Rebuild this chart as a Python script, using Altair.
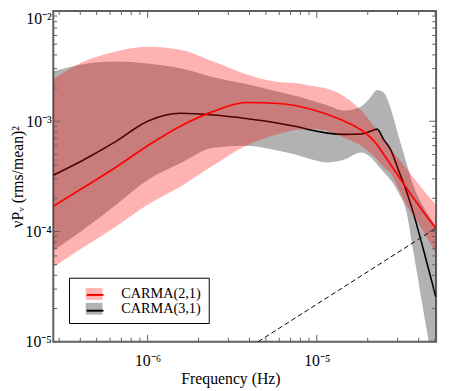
import altair as alt
import pandas as pd

# ---------------- data ----------------
freq = [2.77e-7, 4.07e-7, 6.43e-7, 1.0e-6, 1.56e-6, 2.45e-6, 3.81e-6, 5.93e-6,
        7.45e-6, 9.35e-6, 1.16e-5, 1.46e-5, 1.83e-5, 2.09e-5, 2.27e-5, 2.49e-5,
        2.73e-5, 3.04e-5, 3.38e-5, 3.71e-5, 4.25e-5, 5.05e-5]

carma21_mid = [1.69e-4, 2.44e-4, 3.79e-4, 6.0e-4, 9.03e-4, 1.23e-3, 1.48e-3, 1.45e-3,
               1.39e-3, 1.28e-3, 1.15e-3, 1.0e-3, 8.32e-4, 7.06e-4, 6.12e-4, 4.99e-4,
               4.06e-4, 3.18e-4, 2.49e-4, 2.03e-4, 1.52e-4, 1.07e-4]
carma21_lo = [4.74e-5, 6.99e-5, 1.1e-4, 1.75e-4, 2.54e-4, 3.98e-4, 6.0e-4, 7.66e-4,
              8.32e-4, 8.49e-4, 8.15e-4, 7.06e-4, 6.0e-4, 5.09e-4, 4.5e-4, 3.82e-4,
              3.38e-4, 2.44e-4, 1.75e-4, 1.4e-4, 1.01e-4, 6.31e-5]
carma21_hi = [2.41e-3, 3.41e-3, 4.28e-3, 4.74e-3, 4.46e-3, 3.48e-3, 2.67e-3, 2.27e-3,
              2.22e-3, 2.09e-3, 1.97e-3, 1.67e-3, 1.25e-3, 9.8e-4, 8.3e-4, 6.78e-4,
              5.64e-4, 4.59e-4, 3.74e-4, 3.11e-4, 2.39e-4, 1.75e-4]

carma31_mid = [3.24e-4, 4.36e-4, 6.5e-4, 1.0e-3, 1.18e-3, 1.14e-3, 1.06e-3, 9.6e-4,
               9.0e-4, 8.3e-4, 7.8e-4, 7.6e-4, 7.66e-4, 8.15e-4, 8.49e-4, 6.77e-4,
               5.52e-4, 3.6e-4, 2.34e-4, 1.49e-4, 7.0e-5, 2.56e-5]
carma31_lo = [6.71e-5, 1.01e-4, 1.72e-4, 2.93e-4, 4.15e-4, 5.75e-4, 6.0e-4, 5.41e-4,
              4.99e-4, 4.5e-4, 4.23e-4, 4.5e-4, 5.2e-4, 4.69e-4, 4.06e-4, 3.45e-4,
              2.93e-4, 2.24e-4, 1.52e-4, 6.71e-5, 1.96e-5, 4.24e-6]
carma31_hi = [2.84e-3, 3.28e-3, 3.48e-3, 3.34e-3, 3.02e-3, 2.51e-3, 2.18e-3, 1.85e-3,
              1.70e-3, 1.54e-3, 1.39e-3, 1.25e-3, 1.36e-3, 1.67e-3, 1.92e-3, 1.81e-3,
              1.31e-3, 7.36e-4, 4.23e-4, 2.64e-4, 1.69e-4, 1.12e-4]

dashed_freq = [4.5e-6, 5.05e-5]
dashed_power = [1.0e-5, 1.07e-4]

series_names = ["CARMA(2,1)", "CARMA(3,1)"]
series_colors = ["red", "black"]

x_major = [1e-6, 1e-5]
x_minor = [3e-7, 4e-7, 5e-7, 6e-7, 7e-7, 8e-7, 9e-7,
           2e-6, 3e-6, 4e-6, 5e-6, 6e-6, 7e-6, 8e-6, 9e-6,
           2e-5, 3e-5, 4e-5, 5e-5]
y_major = [1e-5, 1e-4, 1e-3, 1e-2]
y_minor = [m * d for d in (1e-5, 1e-4, 1e-3) for m in (2, 3, 4, 5, 6, 7, 8, 9)]

x_domain = [2.77e-7, 5.07e-5]
y_domain = [1e-5, 1e-2]

# ---------------- layout ----------------
W, H = 389, 336
FONT = "Liberation Serif"
FRAME = "#606060"

xs = alt.Scale(type="log", domain=x_domain, nice=False)
ys = alt.Scale(type="log", domain=y_domain, nice=False)

sup = ("'10' + (round(log(datum.value)/LN10) == -2 ? '⁻²' : "
       "round(log(datum.value)/LN10) == -3 ? '⁻³' : "
       "round(log(datum.value)/LN10) == -4 ? '⁻⁴' : "
       "round(log(datum.value)/LN10) == -5 ? '⁻⁵' : "
       "round(log(datum.value)/LN10) == -6 ? '⁻⁶' : '⁻⁷')")

x_title = "Frequency (Hz)"
y_title = "νPᵥ  (rms/mean)²"
x_axis = alt.Axis(values=x_major, labelExpr=sup, labelPadding=11, titlePadding=2,
                  titleX=180, titleFontSize=16)
y_axis = alt.Axis(values=y_major, labelExpr=sup, labelPadding=2, titlePadding=0,
                  titleFontSize=16,
                  labelBaseline={"condition": {"test": "datum.value > 0.005", "value": "top"},
                                 "value": "middle"})


def X(field):
    return alt.X(field, scale=xs, axis=x_axis, title=x_title)


def Y(field):
    return alt.Y(field, scale=ys, axis=y_axis, title=y_title)


def frame(name, f, lo, hi, mid):
    return pd.DataFrame({"f": f, "lo": lo, "hi": hi, "mid": mid,
                         "series": name, "name": name})


df21 = frame(series_names[0], freq, carma21_lo, carma21_hi, carma21_mid)
df31 = frame(series_names[1], freq, carma31_lo, carma31_hi, carma31_mid)
df_dash = pd.DataFrame({"f": dashed_freq, "mid": dashed_power})

fill_legend = alt.Legend(
    orient="none", legendX=16, legendY=271, title=None, padding=8,
    strokeColor="black",
    symbolType="M-1,-0.7H1V0.7H-1Z", symbolSize=289, symbolOpacity=0.3,
    symbolStrokeWidth=0, symbolOffset=9, labelOffset=19, rowPadding=0,
    labelFont=FONT, labelFontSize=14.5, labelColor="black")
stroke_legend = alt.Legend(
    orient="none", legendX=16, legendY=271, title=None, padding=8,
    symbolType="stroke", symbolSize=289, symbolStrokeWidth=2,
    symbolOffset=9, labelOffset=19, rowPadding=0,
    labelFont=FONT, labelFontSize=14.5, labelExpr="''")

fill_enc = alt.Fill("series:N", scale=alt.Scale(domain=series_names, range=series_colors),
                    legend=fill_legend)
stroke_enc = alt.Stroke("name:N", scale=alt.Scale(range=series_colors), legend=stroke_legend)


def band(df):
    return alt.Chart(df).mark_area(clip=True, fillOpacity=0.3, interpolate="monotone").encode(
        x=X("f:Q"), y=Y("lo:Q"), y2="hi:Q", fill=fill_enc)


def line(df, width):
    return alt.Chart(df).mark_line(clip=True, strokeWidth=width, interpolate="monotone").encode(
        x=X("f:Q"), y=Y("mid:Q"), stroke=stroke_enc)


dash = alt.Chart(df_dash).mark_line(clip=True, color="black", strokeWidth=1,
                                    strokeDash=[5, 3]).encode(x=X("f:Q"), y=Y("mid:Q"))


def xticks(vals, y0, y1):
    return alt.Chart(pd.DataFrame({"f": vals})).mark_rule(color=FRAME, strokeWidth=1).encode(
        x=X("f:Q"), y=alt.value(y0), y2=alt.value(y1))


def yticks(vals, x0, x1):
    return alt.Chart(pd.DataFrame({"mid": vals})).mark_rule(color=FRAME, strokeWidth=1).encode(
        y=Y("mid:Q"), x=alt.value(x0), x2=alt.value(x1))


MAJ, MIN = 7, 4
ticks = [
    xticks(x_major, H, H - MAJ), xticks(x_minor, H, H - MIN),
    xticks(x_major, 0, MAJ), xticks(x_minor, 0, MIN),
    yticks(y_major, 0, MAJ), yticks(y_minor, 0, MIN),
    yticks(y_major, W, W - MAJ), yticks(y_minor, W, W - MIN),
]

chart = alt.layer(
    band(df31), line(df31, 1.6), band(df21), line(df21, 1.7), dash, *ticks
).properties(
    width=W, height=H,
    autosize=alt.AutoSizeParams(type="none"),
    padding={"left": 46, "top": 0, "right": 6, "bottom": 46},
).configure_view(
    stroke=FRAME, strokeWidth=2
).configure_axis(
    labelFont=FONT, titleFont=FONT, labelFontSize=16, titleFontSize=16,
    titleFontWeight="normal", labelColor="black", titleColor="black",
    grid=False, ticks=False, domain=False
).configure_legend(
    strokeWidth=1
)

chart.save("out.html", embed_options={"renderer": "svg", "actions": False})
